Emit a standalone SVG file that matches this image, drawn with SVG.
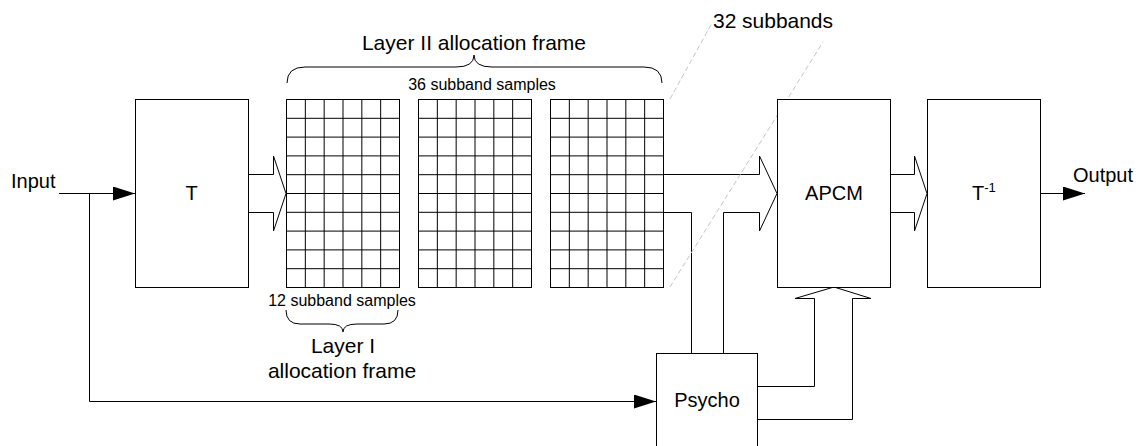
<svg xmlns="http://www.w3.org/2000/svg" xmlns:xlink="http://www.w3.org/1999/xlink" width="1140" height="446" viewBox="0 0 1140 446">
<style>
.box{fill:#fff;stroke:#000;stroke-width:1}
.ln{fill:none;stroke:#000;stroke-width:1}
.dash{fill:none;stroke:#c4c4c4;stroke-width:1;stroke-dasharray:5,3}
.t{font-family:"Liberation Sans",Arial,sans-serif;fill:#000}
.big{font-size:20px}
.mid{font-size:21px}
.sm{font-size:16px}
</style>
<defs>
<marker id="ah" markerWidth="22" markerHeight="14" refX="22" refY="7" orient="auto" markerUnits="userSpaceOnUse">
<path d="M0,0 L22,7 L0,14 Z" fill="#000"/>
</marker>
<g id="grid">
<rect x="0" y="0" width="113" height="188" class="box"/>
<path class="ln" d="M18.83,0V188M37.67,0V188M56.5,0V188M75.33,0V188M94.17,0V188M0,18.8H113M0,37.6H113M0,56.4H113M0,75.2H113M0,94H113M0,112.8H113M0,131.6H113M0,150.4H113M0,169.2H113"/>
</g>
</defs>
<rect width="1140" height="446" fill="#fff"/>

<g id="connectors">
<path class="ln" d="M59,193.5 H135" marker-end="url(#ah)"/>
<path class="ln" d="M89.5,193.5 V401.5 H656" marker-end="url(#ah)"/>
<path class="ln" d="M1041,193.5 H1085" marker-end="url(#ah)"/>
<path class="ln" d="M248,174.5 H273.5 V156 L286,193.5 L273.5,231 V212.5 H248"/>
<path class="ln" d="M663,174.5 H759.5 V156 L777,193.5 L759.5,231 V212.5 H723.5 V353"/>
<path class="ln" d="M663,212.5 H691.5 V353"/>
<path class="ln" d="M890,174.5 H914.5 V156 L927,193.5 L914.5,231 V212.5 H890"/>
<path class="ln" d="M757,386.5 H814.5 V298.5 H795 L834,287 L871,298.5 H852.5 V419.5 H757"/>
<path class="dash" d="M670,99 L712,23"/>
<path class="dash" d="M670,287 L823,42"/>
<path class="ln" d="M287,83 Q287,67 305,67 L456,67 Q474,67 474,55 Q474,67 492,67 L644,67 Q662,67 662,83"/>
<path class="ln" d="M286,310 Q286,324 300,324 L329,324 Q343,324 343,332 Q343,324 357,324 L384,324 Q398,324 398,310"/>
</g>

<g id="node-T">
<rect x="135.5" y="99.5" width="113" height="188" class="box"/>
<text class="t big" x="191.5" y="200" text-anchor="middle">T</text>
</g>
<g id="node-grid1"><use xlink:href="#grid" transform="translate(286.5,99.5)"/></g>
<g id="node-grid2"><use xlink:href="#grid" transform="translate(418.5,99.5)"/></g>
<g id="node-grid3"><use xlink:href="#grid" transform="translate(550.5,99.5)"/></g>
<g id="node-APCM">
<rect x="777.5" y="99.5" width="113" height="188" class="box"/>
<text class="t big" x="834" y="200" text-anchor="middle">APCM</text>
</g>
<g id="node-Tinv">
<rect x="927.5" y="99.5" width="113" height="188" class="box"/>
<text class="t big" x="972" y="200">T<tspan font-size="13" dy="-8">-1</tspan></text>
</g>
<g id="node-Psycho">
<rect x="656.5" y="353.5" width="101" height="100" class="box"/>
<text class="t big" x="707" y="407" text-anchor="middle">Psycho</text>
</g>
<g id="labels">
<text class="t big" x="11" y="188">Input</text>
<text class="t big" x="1073" y="182">Output</text>
<text class="t mid" x="474" y="50" text-anchor="middle">Layer II allocation frame</text>
<text class="t sm" x="482" y="90" text-anchor="middle">36 subband samples</text>
<text class="t mid" x="713" y="28" textLength="120">32 subbands</text>
<text class="t sm" x="342" y="306" text-anchor="middle">12 subband samples</text>
<text class="t mid" x="343" y="353" text-anchor="middle">Layer I</text>
<text class="t mid" x="342" y="378" text-anchor="middle">allocation frame</text>
</g>
</svg>
